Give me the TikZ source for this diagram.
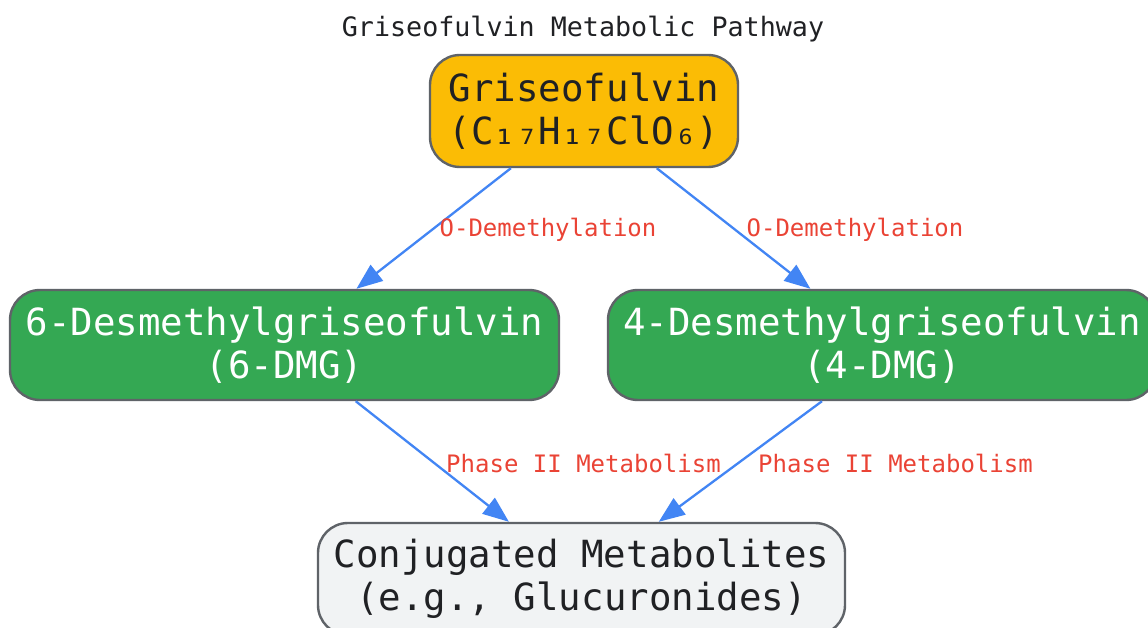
\documentclass[tikz,border=0pt]{standalone}
\usepackage{fontspec}
\setmainfont{DejaVu Sans Mono}
\usetikzlibrary{arrows.meta}
\definecolor{gyellow}{HTML}{FBBC05}
\definecolor{ggreen}{HTML}{34A853}
\definecolor{glight}{HTML}{F1F3F4}
\definecolor{gborder}{HTML}{5F6368}
\definecolor{gblue}{HTML}{4285F4}
\definecolor{gred}{HTML}{EA4335}
\definecolor{gtext}{HTML}{202124}
\tikzset{
  box/.style={draw=gborder, line width=2.4pt, rounded corners=30pt, inner sep=0pt,
    align=center, font=\fontsize{37.4}{43}\selectfont, text=gtext},
  edge/.style={draw=gblue, line width=2.3pt, -{Triangle[length=26pt,width=20pt]}},
  elabel/.style={text=gred, font=\fontsize{24}{28}\selectfont, inner sep=0pt},
}
\begin{document}
\begin{tikzpicture}[x=1pt,y=-1pt]
\useasboundingbox (0,0) rectangle (1148,628);
\fill[white] (0,0) rectangle (1148,628);
\node[font=\fontsize{26.7}{30}\selectfont, text=gtext] (title) at (583,29) {Griseofulvin Metabolic Pathway};
\node[box, fill=gyellow, minimum width=308pt, minimum height=112pt] (top) at (584,111)
  {Griseofulvin\\(C₁₇H₁₇ClO₆)};
\node[box, fill=ggreen, text=white, minimum width=549pt, minimum height=110pt] (left) at (284.5,345)
  {6-Desmethylgriseofulvin\\(6-DMG)};
\node[box, fill=ggreen, text=white, minimum width=548pt, minimum height=110pt] (right) at (882,345)
  {4-Desmethylgriseofulvin\\(4-DMG)};
\node[box, fill=glight, minimum width=527pt, minimum height=112pt] (bottom) at (581.5,579)
  {Conjugated Metabolites\\(e.g., Glucuronides)};
\draw[edge] (top) -- (left);
\draw[edge] (top) -- (right);
\draw[edge] (left) -- (bottom);
\draw[edge] ([xshift=-60pt]right.south) -- (bottom);
\node[elabel] (l1) at (548,230) {O-Demethylation};
\node[elabel] (l2) at (855,230) {O-Demethylation};
\node[elabel] (l3) at (583.5,463) {Phase II Metabolism};
\node[elabel] (l4) at (895.5,463) {Phase II Metabolism};
\end{tikzpicture}
\end{document}
